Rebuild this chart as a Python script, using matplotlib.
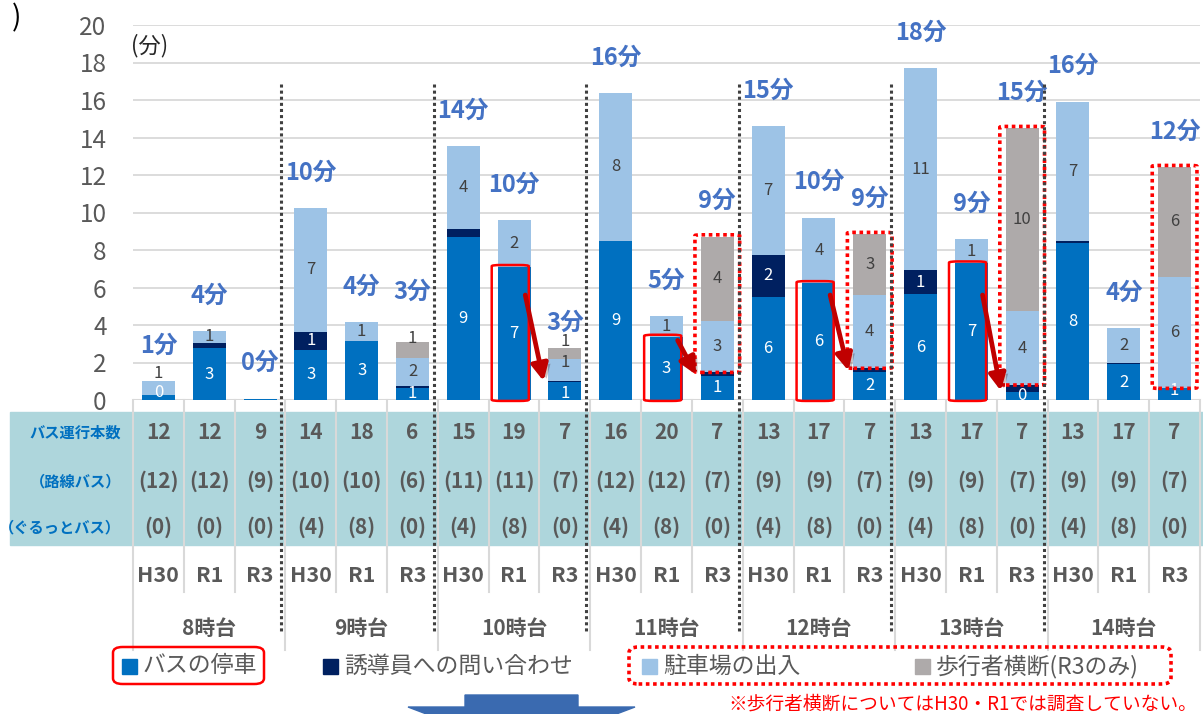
import numpy as np
import matplotlib.pyplot as plt
import matplotlib.transforms as mtransforms
from matplotlib.patches import FancyBboxPatch, Rectangle, Polygon
from matplotlib import patheffects as pe

plt.rcParams['font.family'] = ['Noto Sans CJK JP', 'DejaVu Sans']

# data
hours = ['8時台', '9時台', '10時台', '11時台', '12時台', '13時台', '14時台']
years = ['H30', 'R1', 'R3']

bus = [0.25, 2.75, 0.07, 2.67, 3.16, 0.66, 8.67, 7.1, 0.96, 8.5, 3.38, 1.3,
       5.5, 6.24, 1.51, 5.64, 7.29, 0.44, 8.36, 1.9, 0.62]
inquiry = [0, 0.3, 0, 0.97, 0, 0.09, 0.45, 0, 0.05, 0, 0, 0.17,
           2.26, 0, 0.18, 1.29, 0, 0.36, 0.14, 0.1, 0]
parking = [0.75, 0.63, 0, 6.6, 0.98, 1.51, 4.43, 2.5, 1.2, 7.87, 1.1, 2.74,
           6.84, 3.48, 3.93, 10.76, 1.3, 3.93, 7.41, 1.84, 5.96]
crossing = [0, 0, 0, 0, 0, 0.85, 0, 0, 0.56, 0, 0, 4.5,
            0, 0, 3.22, 0, 0, 9.76, 0, 0, 5.83]

bus_lbl = ['0', '3', '', '3', '3', '1', '9', '7', '1', '9', '3', '1',
           '6', '6', '2', '6', '7', '0', '8', '2', '1']
inquiry_lbl = ['', '', '', '1', '', '', '', '', '', '', '', '',
               '2', '', '', '1', '', '', '', '', '']
parking_lbl = ['1', '1', '', '7', '1', '2', '4', '2', '1', '8', '1', '3',
               '7', '4', '4', '11', '1', '4', '7', '2', '6']
crossing_lbl = ['', '', '', '', '', '1', '', '', '1', '', '', '4',
                '', '', '3', '', '', '10', '', '', '6']
total_lbl = ['1分', '4分', '0分', '10分', '4分', '3分', '14分', '10分', '3分',
             '16分', '5分', '9分', '15分', '10分', '9分', '18分', '9分', '15分',
             '16分', '4分', '12分']

runs = [12, 12, 9, 14, 18, 6, 15, 19, 7, 16, 20, 7, 13, 17, 7, 13, 17, 7, 13, 17, 7]
route = [12, 12, 9, 10, 10, 6, 11, 11, 7, 12, 12, 7, 9, 9, 7, 9, 9, 7, 9, 9, 7]
loop = [0, 0, 0, 4, 8, 0, 4, 8, 0, 4, 8, 0, 4, 8, 0, 4, 8, 0, 4, 8, 0]
row_names = ['バス運行本数', '（路線バス）', '（ぐるっとバス）']

legend_names = ['バスの停車', '誘導員への問い合わせ', '駐車場の出入', '歩行者横断(R3のみ)']
note = '※歩行者横断についてはH30・R1では調査していない。'

# styles
colors = ['#0070C0', '#002060', '#9DC3E6', '#AEAAAA']
lbl_colors = ['white', 'white', '#404040', '#404040']
gray_txt = '#595959'
# small manual label shifts (data units)
seg_nudge = {(0, 0): 0.3, (2, 0): 0.8, (3, 5): 0.6, (3, 8): 0.65, (2, 8): 0.4,
             (0, 8): -0.15, (0, 20): 0.2}
tot_nudge = {5: 0.75, 8: -0.55}

W, H = 1203, 714
fig = plt.figure(figsize=(W / 100, H / 100), dpi=100)
ax = fig.add_axes([133 / W, 1 - 400 / H, 1067 / W, 375 / H])


def fy(py):
    return 1 - py / H


def fx(px):
    return px / W


trans = mtransforms.blended_transform_factory(ax.transData, fig.transFigure)

n = len(bus)
x = np.arange(n) + 0.5
bw = 0.65
series = [bus, inquiry, parking, crossing]
labels = [bus_lbl, inquiry_lbl, parking_lbl, crossing_lbl]
bottom = np.zeros(n)
for s, (vals, col) in enumerate(zip(series, colors)):
    vals = np.array(vals)
    ax.bar(x, vals, bw, bottom=bottom, color=col, zorder=2)
    for i in range(n):
        if labels[s][i]:
            yy = bottom[i] + vals[i] / 2 + seg_nudge.get((s, i), 0)
            ax.text(x[i], yy, labels[s][i], ha='center', va='center',
                    fontsize=12, color=lbl_colors[s], zorder=5)
    bottom = bottom + vals
total = bottom

for i in range(n):
    ax.text(x[i], total[i] + 1.9 + tot_nudge.get(i, 0), total_lbl[i],
            ha='center', va='center', fontsize=17, fontweight='bold',
            color='#4472C4', zorder=6)

ax.set_xlim(0, n)
ax.set_ylim(0, 20)
ax.set_yticks(range(0, 21, 2))
ax.set_xticks([])
ax.grid(axis='y', color='#D9D9D9', lw=1.3)
ax.set_axisbelow(True)
ax.tick_params(axis='y', length=0, labelsize=17.5, labelcolor=gray_txt, pad=19)
for sp in ax.spines.values():
    sp.set_visible(False)
ax.axhline(0, color='#D9D9D9', lw=1.5, zorder=1)

fig.text(fx(131), fy(46), '(分)', fontsize=16, ha='left', va='center', color='#262626')
fig.text(fx(12), fy(18), ')', fontsize=20, ha='left', va='center', color='black')

# red boxes around R1 bus segments, dotted boxes around R3 bars, arrows
for g in range(2, 6):
    i = g * 3 + 1
    box = FancyBboxPatch((x[i] - 0.44, -0.05), 0.73, bus[i] + 0.15,
                         boxstyle='round,pad=0,rounding_size=0.18',
                         mutation_aspect=1 / 2.7, fill=False, ec='#FF0000',
                         lw=1.8, zorder=7, clip_on=False)
    ax.add_patch(box)
    j = i + 1
    ax.annotate('', xy=(x[j] - 0.42, bus[j] + 0.05),
                xytext=(x[i] + 0.22, min(bus[i] - 0.2, 5.6)),
                arrowprops=dict(arrowstyle='-|>,head_length=1.0,head_width=0.5',
                                color='#C00000', lw=3.4, shrinkA=0, shrinkB=0,
                                path_effects=[pe.SimplePatchShadow(offset=(3, -2), alpha=0.25),
                                              pe.Normal()]),
                zorder=8)
for g in range(3, 7):
    i = g * 3 + 2
    lo = bus[i] + inquiry[i]
    box = FancyBboxPatch((x[i] - 0.44, lo), 0.88, total[i] - lo + 0.1,
                         boxstyle='round,pad=0,rounding_size=0.12',
                         mutation_aspect=1 / 2.7, fill=False, ec='#FF0000',
                         lw=2.6, ls=(0, (1, 1)), zorder=7, clip_on=False)
    ax.add_patch(box)

# table band
ax.add_patch(Rectangle((fx(10), fy(545)), 1 - fx(10), (545 - 412) / H,
                       transform=fig.transFigure, color='#AED6DC', zorder=0.5,
                       clip_on=False))
for k in range(n + 1):
    end = 650 if k % 3 == 0 else 592
    ax.plot([k, k], [fy(400), fy(end)], transform=trans, color='#D9D9D9',
            lw=1.5, clip_on=False, zorder=1)
for k in range(3, n, 3):
    ax.plot([k - 0.08, k - 0.08], [fy(84), fy(632)], transform=trans,
            color='#404040', lw=2.2, ls=(0, (1, 1)), clip_on=False, zorder=9)

row_y = [433, 481, 527]
for name, yy in zip(row_names, row_y):
    fig.text(fx(121), fy(yy), name, ha='right', va='center', fontsize=11,
             fontweight='bold', color='#0070C0')
for i in range(n):
    ax.text(x[i], fy(433), str(runs[i]), transform=trans, ha='center', va='center',
            fontsize=15, fontweight='bold', color=gray_txt)
    ax.text(x[i], fy(481), '(%d)' % route[i], transform=trans, ha='center',
            va='center', fontsize=15, fontweight='bold', color=gray_txt)
    ax.text(x[i], fy(527), '(%d)' % loop[i], transform=trans, ha='center',
            va='center', fontsize=15, fontweight='bold', color=gray_txt)
    ax.text(x[i], fy(575), years[i % 3], transform=trans, ha='center', va='center',
            fontsize=15.5, fontweight='bold', color=gray_txt)
for g, h in enumerate(hours):
    ax.text(g * 3 + 1.5, fy(628), h, transform=trans, ha='center', va='center',
            fontsize=15, fontweight='bold', color=gray_txt)

# legend
sq_x = [122, 323, 642, 915]
for name, col, sx in zip(legend_names, colors, sq_x):
    fig.patches.append(Rectangle((fx(sx), fy(674)), 15 / W, 15 / H,
                                 transform=fig.transFigure, color=col))
    fig.text(fx(sx + 21), fy(666), name, ha='left', va='center', fontsize=16.5,
             color=gray_txt)
fig.patches.append(FancyBboxPatch((fx(113), fy(684)), 151 / W, 37 / H,
                                  boxstyle='round,pad=0,rounding_size=0.008',
                                  transform=fig.transFigure, fill=False,
                                  ec='#FF0000', lw=1.8))
fig.patches.append(FancyBboxPatch((fx(629), fy(684)), 542 / W, 37 / H,
                                  boxstyle='round,pad=0,rounding_size=0.008',
                                  transform=fig.transFigure, fill=False,
                                  ec='#FF0000', lw=2.6, ls=(0, (1, 1))))
fig.text(fx(1197), fy(704), note, ha='right', va='center', fontsize=13.5,
         color='#FF0000')

# blue block arrow at the bottom (cut off)
arrow_pts = [(465, 695), (578, 695), (578, 707), (635, 707), (521, 750),
             (408, 707), (465, 707)]
fig.patches.append(Polygon([(fx(px), fy(py)) for px, py in arrow_pts],
                           closed=True, transform=fig.transFigure,
                           color='#3A6AB0'))

fig.savefig('out.png', dpi=100)
